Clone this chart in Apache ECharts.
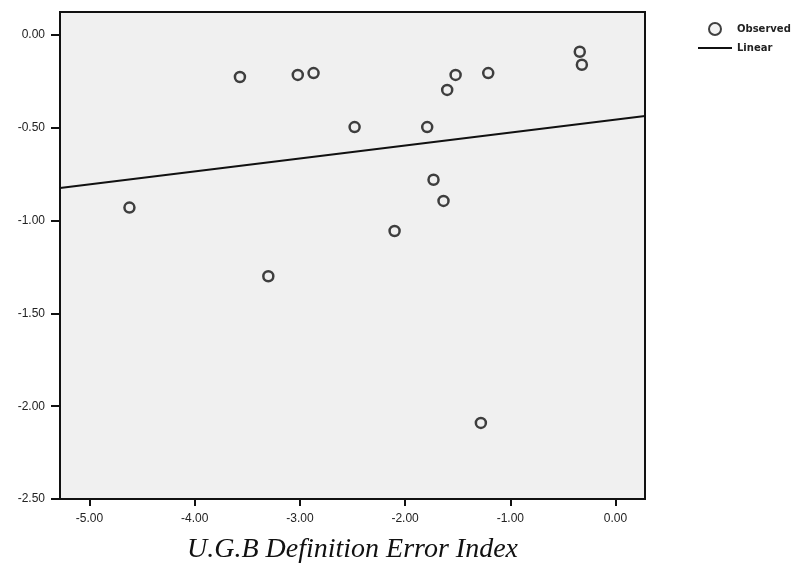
<!DOCTYPE html>
<html>
<head>
<meta charset="utf-8">
<script src="https://cdn.jsdelivr.net/npm/echarts@6/dist/echarts.min.js"></script>
<style>
  html, body { margin: 0; padding: 0; background: #fff; }
  #chart { width: 800px; height: 566px; }
</style>
</head>
<body>
<div id="chart"></div>
<script>
// observed points
const errorIndex = [-4.62, -3.57, -3.30, -3.02, -2.87, -2.48, -2.10, -1.79, -1.73, -1.635, -1.60, -1.52, -1.21, -1.28, -0.34, -0.32];
const observed = [-0.93, -0.226, -1.30, -0.215, -0.205, -0.496, -1.056, -0.496, -0.78, -0.894, -0.296, -0.215, -0.205, -2.09, -0.09, -0.16];

// linear fit, ends of the line at the plot edges
const fitX = [-5.28, 0.28];
const fitY = [-0.824, -0.436];

const xTicks = [-5, -4, -3, -2, -1, 0];
const yTicks = [-2.5, -2, -1.5, -1, -0.5, 0];

const chart = echarts.init(document.getElementById("chart"));

const option = {
  backgroundColor: "#fff",
  animation: false,
  grid: {
    left: 60,
    right: 155,
    top: 12,
    bottom: 67,
    outerBoundsMode: "none",
    containLabel: false,
    show: true,
    backgroundColor: "#f0f0f0",
    borderColor: "#111",
    borderWidth: 2,
  },
  legend: {
    orient: "vertical",
    left: 693,
    top: 17,
    itemWidth: 34,
    itemHeight: 12,
    itemGap: 7,
    textStyle: {
      fontFamily: "DejaVu Sans",
      fontSize: 10,
      fontWeight: "bold",
      color: "#222",
    },
    data: [
      { name: "Observed", icon: "circle" },
      { name: "Linear", icon: "path://M0,0 L34,0 L34,2 L0,2 Z" },
    ],
  },
  xAxis: {
    type: "value",
    min: -5.28,
    max: 0.28,
    name: "U.G.B Definition Error Index",
    nameLocation: "middle",
    nameGap: 37,
    nameTextStyle: {
      fontFamily: "Liberation Serif",
      fontStyle: "italic",
      fontSize: 28,
      color: "#111",
    },
    splitLine: { show: false },
    axisLine: { onZero: false, lineStyle: { color: "#111", width: 2 } },
    axisTick: {
      customValues: xTicks,
      length: 7,
      lineStyle: { color: "#111", width: 2 },
    },
    axisLabel: {
      customValues: xTicks,
      formatter: (v) => v.toFixed(2),
      fontFamily: "Liberation Sans",
      fontSize: 12,
      color: "#222",
      margin: 14,
    },
  },
  yAxis: {
    type: "value",
    min: -2.5,
    max: 0.124,
    splitLine: { show: false },
    axisLine: { onZero: false, lineStyle: { color: "#111", width: 2 } },
    axisTick: {
      customValues: yTicks,
      length: 9,
      lineStyle: { color: "#111", width: 2 },
    },
    axisLabel: {
      customValues: yTicks,
      formatter: (v) => v.toFixed(2),
      fontFamily: "Liberation Sans",
      fontSize: 12,
      color: "#222",
      margin: 15,
    },
  },
  series: [
    {
      name: "Observed",
      type: "scatter",
      symbol: "circle",
      symbolSize: 10,
      data: errorIndex.map((x, i) => [x, observed[i]]),
      itemStyle: {
        color: "#f0f0f0",
        borderColor: "#111",
        borderWidth: 2.5,
      },
      z: 3,
    },
    {
      name: "Linear",
      type: "line",
      symbol: "none",
      data: fitX.map((x, i) => [x, fitY[i]]),
      lineStyle: { color: "#111", width: 2 },
      itemStyle: { color: "#111" },
      z: 2,
    },
  ],
};

chart.setOption(option);
</script>
</body>
</html>
